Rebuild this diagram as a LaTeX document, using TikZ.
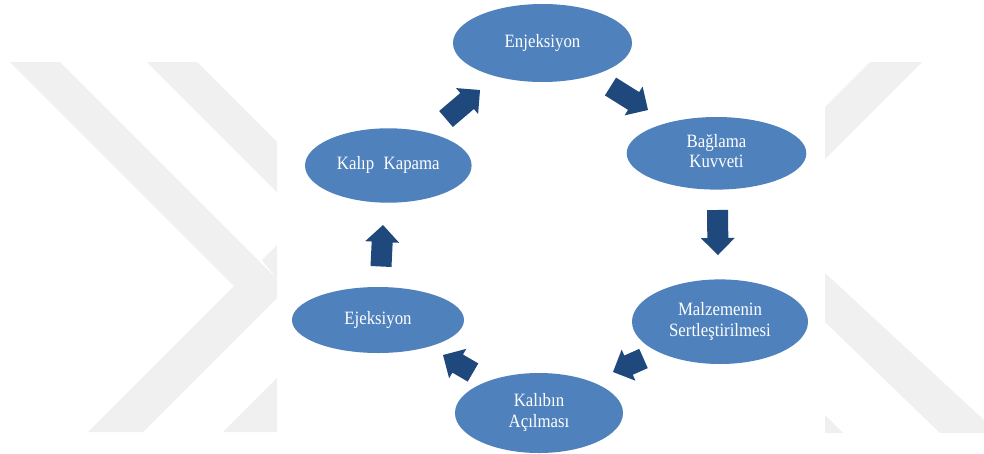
\documentclass[tikz,border=0pt]{standalone}
\usepackage{fontspec}
\setmainfont{Liberation Serif}
\newfontfamily\lblfont{Liberation Serif}
\usepackage{graphicx}
\usetikzlibrary{shapes.geometric,calc}
\definecolor{ellfill}{RGB}{79,129,189}
\definecolor{arrfill}{RGB}{31,73,125}
\definecolor{wmgray}{RGB}{240,240,240}
\newcommand{\lbl}[1]{\scalebox{1}[1.12]{\begin{tabular}{@{}c@{}}#1\end{tabular}}}
\newcommand{\blockarr}[2]{%
  \coordinate (bb) at ($(#2)!17pt!(#1)$);
  \fill[arrowfill] ($(#1)!10.5pt!90:(#2)$) -- ($(bb)!10.5pt!90:(#2)$) --
    ($(bb)!17pt!90:(#2)$) -- (#2) -- ($(bb)!17pt!-90:(#2)$) --
    ($(bb)!10.5pt!-90:(#2)$) -- ($(#1)!10.5pt!-90:(#2)$) -- cycle;
}
\tikzset{
  ell/.style={ellipse, fill=ellfill, inner sep=0pt, text=white,
    font=\lblfont\fontsize{16.8}{18.7}\selectfont},
  arrowfill/.style={fill=arrfill},
  wm/.style={fill=wmgray}
}
\begin{document}
\begin{tikzpicture}[x=1pt,y=-1pt]
\useasboundingbox (0,0) rectangle (984,453);
\fill[white] (0,0) rectangle (984,453);
% watermark left
\begin{scope}
  \clip (0,0) rectangle (277,453);
  \fill[wm] (10,62) -- (60,62) -- (286.5,288.5) -- (143,432) -- (88,432) -- (234,286) -- cycle;
  \fill[wm] (147,62) -- (197,62) -- (320,185) -- (320,235) -- cycle;
  \fill[wm] (262,260) -- (277,245) -- (277,279) -- cycle;
  \fill[wm] (223,432) -- (277,432) -- (277,378) -- cycle;
\end{scope}
% watermark right
\begin{scope}
  \clip (825,0) rectangle (984,453);
  \fill[wm] (870,62) -- (922,62) -- (805,179) -- (805,127) -- cycle;
  \fill[wm] (825,273) -- (984,420) -- (984,433) -- (940,433) -- (825,322) -- cycle;
  \fill[wm] (825,415) -- (843,433) -- (825,433) -- cycle;
\end{scope}
% nodes
\node[ell, minimum width=179pt, minimum height=78pt] (enj) at (542.5,43) {\lbl{Enjeksiyon}};
\node[ell, minimum width=179.6pt, minimum height=72.6pt] (bag) at (716.5,153.3) {\lbl{Bağlama\\Kuvveti}};
\node[ell, minimum width=176pt, minimum height=84.6pt] (malz) at (720,321.7) {\lbl{Malzemenin\\Sertleştirilmesi}};
\node[ell, minimum width=168pt, minimum height=80pt] (acil) at (539,413) {\lbl{Kalıbın\\Açılması}};
\node[ell, minimum width=172pt, minimum height=66pt] (ejek) at (378,320) {\lbl{Ejeksiyon}};
\node[ell, minimum width=166.6pt, minimum height=74.4pt] (kal) at (388.3,165.5) {\lbl{Kalıp\hspace{0.56em}Kapama}};
% arrow end points
\coordinate (a1t) at (446,119);   \coordinate (a1h) at (480,90);
\coordinate (a2t) at (610.5,86.5); \coordinate (a2h) at (648,110);
\coordinate (a3t) at (717.5,210); \coordinate (a3h) at (718,255);
\coordinate (a4t) at (643.5,358.5); \coordinate (a4h) at (613,372);
\coordinate (a5t) at (473,372.5); \coordinate (a5h) at (443,355);
\coordinate (a6t) at (381,266.5); \coordinate (a6h) at (383,225);
\blockarr{a1t}{a1h}
\blockarr{a2t}{a2h}
\blockarr{a3t}{a3h}
\blockarr{a4t}{a4h}
\blockarr{a5t}{a5h}
\blockarr{a6t}{a6h}
\end{tikzpicture}
\end{document}
